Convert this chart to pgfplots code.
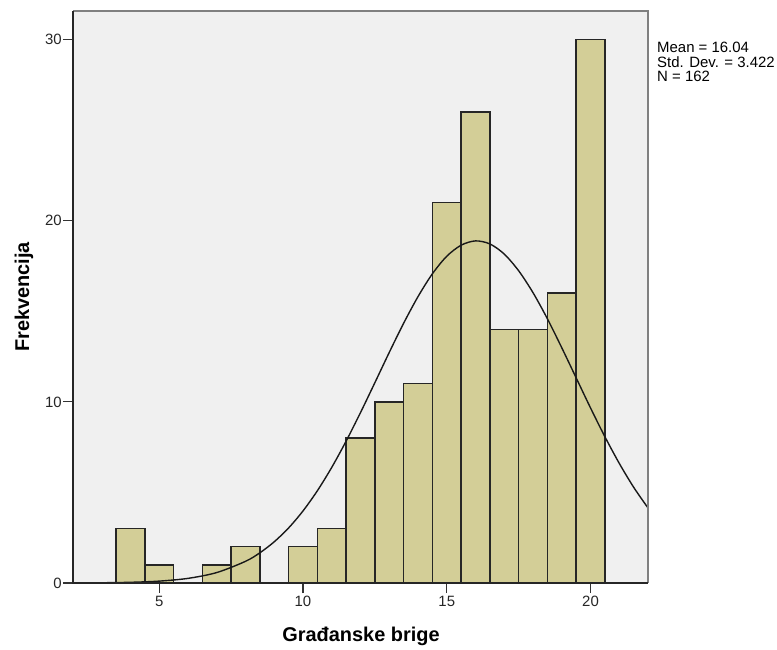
\documentclass[border=0pt]{standalone}
\usepackage{fontspec}
\setmainfont{Liberation Sans}
\usepackage{pgfplots}
\usepackage{pgfplotstable}
\pgfplotsset{compat=1.18}
\definecolor{barfill}{RGB}{211,206,151}
\definecolor{plotbg}{RGB}{240,240,240}
\definecolor{framegray}{RGB}{128,128,128}
% bin left edges and counts (last row closes the final interval)
\pgfplotstableread{
x    n
3.5  3
4.5  1
5.5  0
6.5  1
7.5  2
8.5  0
9.5  2
10.5 3
11.5 8
12.5 10
13.5 11
14.5 21
15.5 26
16.5 14
17.5 14
18.5 16
19.5 30
20.5 30
}\bins
\begin{document}
\begin{tikzpicture}
\useasboundingbox (-73bp,-67bp) rectangle (704bp,583bp);
\begin{axis}[
    at={(0,0)}, anchor=south west,
    scale only axis,
    width=575bp, height=572bp,
    xmin=2, xmax=22,
    ymin=0, ymax=31.58,
    xtick={5,10,15,20},
    ytick={0,10,20,30},
    tick align=outside,
    xtick pos=bottom, ytick pos=left,
    major tick length=10bp,
    tick style={black!80, line width=1.2bp},
    axis line style={draw=none},
    axis background/.style={fill=plotbg},
    tick label style={font=\fontsize{15}{17}\selectfont, text=black!85},
    yticklabel style={inner xsep=1bp},
    xticklabel style={inner ysep=3bp},
    /pgf/number format/assume math mode=true,
    clip=false,
]
\addplot[ybar interval, fill=barfill, draw=none] table[x=x, y=n] {\bins};
\addplot[ybar interval, fill=none, draw=black!85, line width=1.4bp] table[x=x, y=n] {\bins};
\addplot[smooth, black!90, line width=1.4bp, mark=none] coordinates {
    (2,0.0042) (3,0.0133) (4,0.0388) (5,0.1038) (6,0.2554) (7,0.5765)
    (8,1.196) (8.5,1.667) (9,2.276) (9.5,3.041) (10,3.978) (10.5,5.094)
    (11,6.384) (11.5,7.833) (12,9.408) (12.5,11.06) (13,12.73) (13.5,14.34)
    (14,15.81) (14.5,17.07) (15,18.04) (15.5,18.65) (16,18.887) (16.5,18.72)
    (17,18.16) (17.5,17.24) (18,16.03) (18.5,14.59) (19,12.99) (19.5,11.33)
    (20,9.668) (20.5,8.078) (21,6.607) (21.5,5.289) (22,4.144)
};
\draw[framegray, line width=2bp] (rel axis cs:0,1) -- (rel axis cs:1,1) -- (rel axis cs:1,0);
\draw[black!85, line width=1.6bp] (rel axis cs:0,1) -- (rel axis cs:0,0) -- (rel axis cs:1,0);
\end{axis}
\node[rotate=90, font=\bfseries\fontsize{20}{24}\selectfont] at (-49bp,286bp) {Frekvencija};
\node[font=\bfseries\fontsize{20}{24}\selectfont] at (288bp,-53bp) {Građanske brige};
\node[anchor=north west, inner sep=0pt, align=left,
      font=\fontsize{15}{14.7}\selectfont] at (584bp,541bp)
      {Mean = 16.04\\Std. Dev. = 3.422\\N = 162};
\end{tikzpicture}
\end{document}
